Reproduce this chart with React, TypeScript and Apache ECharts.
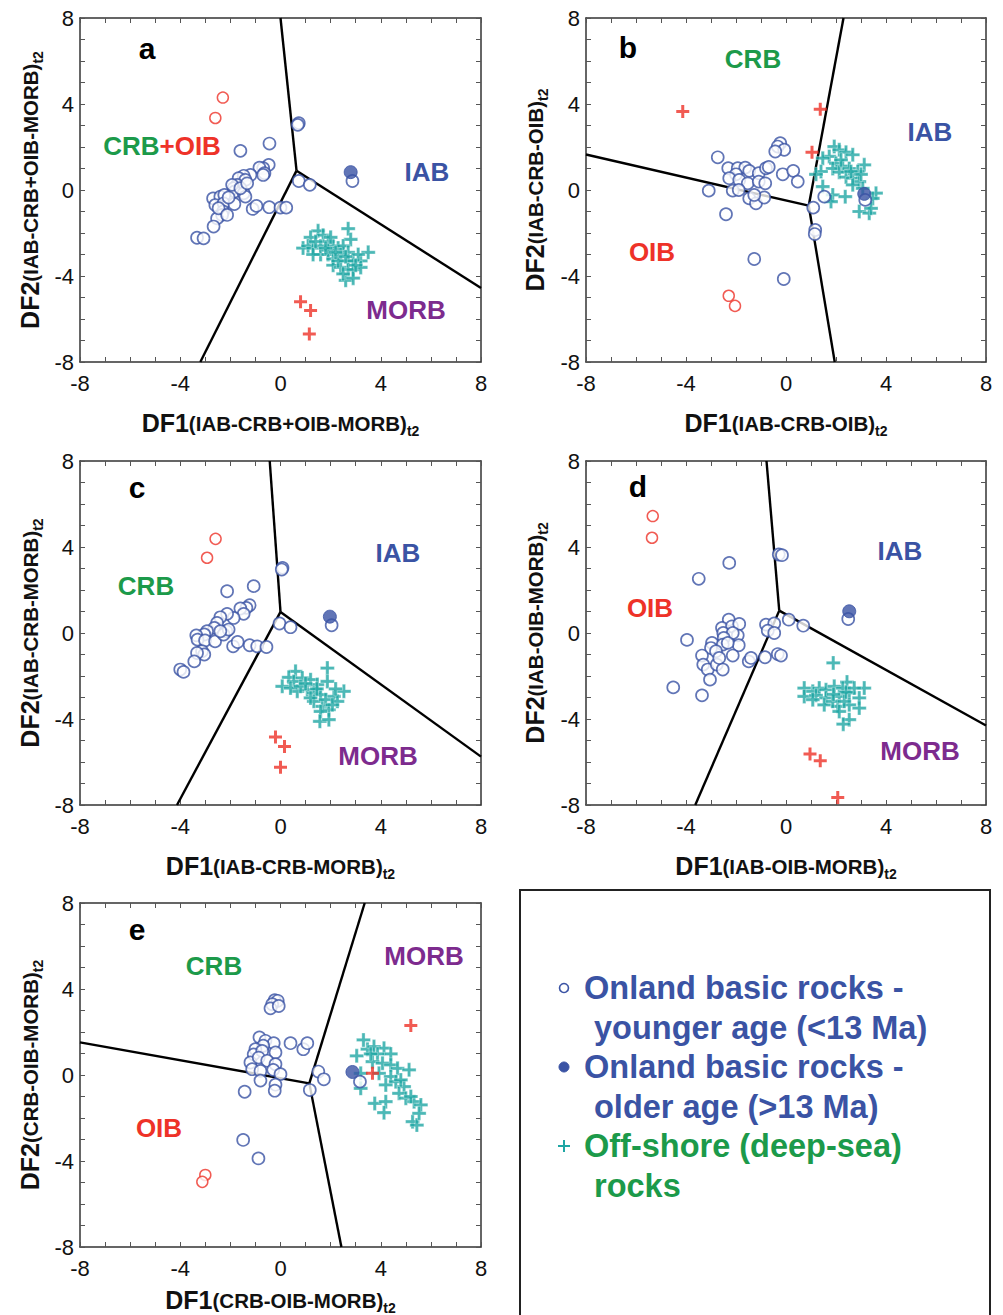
import React, { useEffect, useRef } from "react";
import * as echarts from "echarts";

type P = [number, number];

const FONT = '"Liberation Sans", Arial, Helvetica, sans-serif';
const BLUE = "#3a53a4";
const TEAL = "#1fa6a4";
const RED = "#ee3228";
const GREEN = "#1c9a4a";
const PURPLE = "#7d2b8e";
const PLUS = "path://M3.85,0H6.15V3.85H10V6.15H6.15V10H3.85V6.15H0V3.85H3.85Z";

const tickValues = [-8, -4, 0, 4, 8];

// ---------- panel a ----------
const aYounger: P[] = [
  [0.73, 3.11], [0.69, 3.03], [-0.44, 2.16], [-1.6, 1.82], [-0.47, 1.17], [-0.69, 1.01], [-0.84, 1.04],
  [-0.64, 0.78], [-0.69, 0.7], [-1.2, 0.7], [-1.47, 0.66], [-1.67, 0.55], [-1.4, 0.47], [-1.73, 0.24],
  [-1.87, 0.08], [-1.83, -0.07], [-1.47, -0.15], [-1.4, -0.31], [-2.69, -0.39], [-2.4, -0.31], [-2.24, -0.23],
  [-2.6, -0.7], [-2.27, -0.62], [-2.29, -1.0], [-2.33, -1.16], [-2.53, -1.32], [-2.67, -1.7], [-3.33, -2.22],
  [-3.07, -2.25], [-1.84, -0.65], [-1.11, -0.88], [-0.96, -0.74], [-0.45, -0.8], [0, -0.82], [0.23, -0.82],
  [0.73, 0.42], [1.17, 0.24], [2.87, 0.42], [-2.07, -0.35], [-2.47, -0.85], [-2.13, -1.16], [-1.93, 0.24],
  [-1.6, 0.08], [-1.33, 0.31],
];
const aOlder: P[] = [[2.8, 0.83]];
const aOffshore: P[] = [
  [2.7, -1.8], [2.8, -2.3], [3.5, -2.9], [1.5, -1.9], [1.7, -2.1], [1.2, -2.2], [0.9, -2.7], [1.1, -2.6],
  [1.3, -2.7], [1.6, -2.6], [1.9, -2.4], [2.1, -2.6], [2.3, -2.7], [2.5, -2.6], [2.7, -2.9], [1.6, -3.0],
  [1.9, -3.0], [2.1, -3.2], [2.4, -3.0], [2.7, -3.3], [2.9, -3.3], [3.2, -3.3], [2.1, -3.5], [2.4, -3.6],
  [2.7, -3.7], [2.9, -3.7], [3.2, -3.6], [2.6, -4.2], [2.9, -4.1], [1.3, -3.0], [1.9, -2.8], [2.3, -3.3],
  [3.1, -3.0], [1.4, -2.4], [2.0, -2.2], [2.5, -3.9], [1.8, -2.7], [2.2, -2.9], [3.0, -3.5], [2.6, -3.1],
];
const aRefCircles: P[] = [[-2.3, 4.3], [-2.6, 3.35]];
const aRefPlus: P[] = [[0.8, -5.2], [1.2, -5.6], [1.15, -6.7]];
const aLines: P[][] = [
  [[0, 8], [0.64, 0.9]],
  [[0.64, 0.9], [-3.2, -8]],
  [[0.64, 0.9], [8, -4.56]],
];

// ---------- panel b ----------
const bYounger: P[] = [
  [-0.23, 2.18], [-0.33, 2.02], [-0.07, 1.87], [-0.43, 1.79], [-2.73, 1.52], [-2.31, 1.01], [-1.93, 1.01],
  [-1.63, 1.04], [-1.47, 0.89], [-2.0, 0.73], [-2.27, 0.55], [-1.87, 0.47], [-1.53, 0.31], [-1.09, 0.78],
  [-1.09, 0.39], [-0.83, 0.31], [-0.8, 1.01], [-0.69, 1.07], [-0.13, 0.73], [0.29, 0.89], [0.47, 0.39],
  [-3.09, -0.03], [-2.13, -0.03], [-1.89, 0.0], [-1.47, -0.39], [-1.2, -0.62], [-0.87, -0.35], [-1.27, -0.23],
  [-2.4, -1.13], [1.53, -0.31], [1.09, -0.82], [1.17, -1.86], [1.15, -2.05], [-1.27, -3.21], [-0.09, -4.14],
  [3.17, -0.46],
];
const bOlder: P[] = [[3.13, -0.18]];
const bOffshore: P[] = [
  [1.93, 2.02], [2.13, 1.87], [2.4, 1.76], [2.67, 1.64], [1.73, 1.56], [1.47, 1.48], [2.0, 1.24], [2.27, 1.11],
  [2.53, 1.0], [3.13, 1.17], [2.87, 0.86], [1.87, 1.0], [2.13, 0.83], [2.4, 0.6], [2.67, 0.55], [2.93, 0.39],
  [1.4, 0.86], [1.2, 0.73], [1.47, 0.16], [1.87, -0.23], [2.37, -0.31], [3.07, 0.08], [3.6, -0.15], [3.47, -0.39],
  [2.93, -1.0], [3.33, -1.08], [3.4, -0.85], [1.8, -0.54], [2.67, 0.24], [2.6, 0.86], [2.2, 1.4], [3.0, 0.73],
];
const bRefCircles: P[] = [[-2.29, -4.92], [-2.04, -5.39]];
const bRefPlus: P[] = [[-4.13, 3.65], [1.37, 3.76], [1.04, 1.76]];
const bLines: P[][] = [
  [[-8, 1.65], [0.91, -0.73]],
  [[0.91, -0.73], [2.3, 8]],
  [[0.91, -0.73], [1.95, -8]],
];

// ---------- panel c ----------
const cYounger: P[] = [
  [0.08, 3.03], [0.05, 2.95], [-1.07, 2.18], [-2.13, 1.94], [-1.23, 1.29], [-1.36, 1.17], [-1.6, 1.14],
  [-1.47, 0.89], [-1.87, 0.7], [-2.13, 0.89], [-2.4, 0.73], [-2.53, 0.47], [-2.64, 0.24], [-2.93, 0.08],
  [-3.04, -0.07], [-3.36, -0.11], [-3.31, -0.31], [-3.01, -0.35], [-2.61, -0.39], [-2.16, 0.08], [-2.27, -0.07],
  [-2.07, 0.16], [-2.4, 0.08], [-3.13, -0.85], [-3.04, -1.0], [-3.33, -0.93], [-3.44, -1.32], [-4.0, -1.7],
  [-3.87, -1.81], [-1.89, -0.62], [-1.71, -0.42], [-1.23, -0.57], [-0.93, -0.62], [-0.56, -0.65],
  [-0.04, 0.44], [0.4, 0.27], [2.04, 0.36],
];
const cOlder: P[] = [[1.97, 0.76]];
const cOffshore: P[] = [
  [1.87, -1.63], [0.6, -1.78], [0.33, -2.06], [0.07, -2.48], [0.53, -2.25], [0.87, -2.09], [1.2, -2.17],
  [1.47, -2.4], [1.87, -2.25], [0.67, -2.71], [1.07, -2.64], [1.33, -2.79], [1.6, -2.87], [2.13, -2.95],
  [2.53, -2.71], [2.27, -3.18], [1.33, -3.18], [1.67, -3.41], [1.93, -3.57], [1.6, -3.65], [1.57, -4.11],
  [1.93, -4.03], [1.2, -3.02], [0.4, -2.56], [0.8, -2.48], [1.8, -3.1], [2.07, -3.34], [1.0, -2.35],
  [1.45, -2.6], [2.2, -2.6],
];
const cRefCircles: P[] = [[-2.59, 4.38], [-2.93, 3.5]];
const cRefPlus: P[] = [[-0.2, -4.84], [0.16, -5.28], [0, -6.24]];
const cLines: P[][] = [
  [[-0.43, 8], [0, 0.98]],
  [[0, 0.98], [-4.13, -8]],
  [[0, 0.98], [8, -5.75]],
];

// ---------- panel d ----------
const dYounger: P[] = [
  [-0.29, 3.65], [-0.16, 3.62], [-2.27, 3.26], [-3.49, 2.52], [-2.29, 0.62], [-2.56, 0.24], [-2.16, 0.31],
  [-1.87, 0.42], [-2.51, 0.0], [-1.93, -0.11], [-2.13, 0.0], [-2.49, -0.23], [-2.96, -0.46], [-3.0, -0.7],
  [-2.53, -0.54], [-1.89, -0.57], [-2.33, -0.46], [-2.8, -0.85], [-3.36, -1.05], [-3.31, -1.47], [-3.13, -1.7],
  [-3.04, -2.17], [-2.77, -1.47], [-2.53, -1.7], [-2.13, -1.05], [-2.67, -1.16], [-3.96, -0.32], [-4.51, -2.53],
  [-3.36, -2.9], [-1.49, -1.32], [-1.4, -1.16], [-0.84, -1.13], [-0.33, -0.98], [-0.2, -1.05], [-0.8, 0.39],
  [-0.47, 0.44], [-0.73, 0.11], [-0.47, 0.0], [0.11, 0.62], [0.69, 0.34], [2.49, 0.65],
];
const dOlder: P[] = [[2.53, 1.01]];
const dOffshore: P[] = [
  [1.89, -1.39], [0.73, -2.56], [1.07, -2.71], [1.33, -2.56], [1.6, -2.64], [1.93, -2.48], [2.44, -2.28],
  [3.13, -2.56], [0.73, -2.95], [1.2, -2.9], [1.6, -3.02], [2.13, -2.95], [2.53, -2.79], [2.93, -3.02],
  [1.53, -3.34], [2.07, -3.41], [2.53, -3.34], [2.93, -3.49], [2.13, -3.65], [2.53, -4.03], [2.29, -4.24],
  [2.27, -2.56], [2.73, -2.56], [1.87, -3.18], [1.07, -3.1], [2.33, -3.18], [2.4, -2.75], [1.9, -2.85],
];
const dRefCircles: P[] = [[-5.33, 5.44], [-5.36, 4.43]];
const dRefPlus: P[] = [[0.96, -5.63], [1.37, -5.94], [2.07, -7.65]];
const dLines: P[][] = [
  [[-0.78, 8], [-0.27, 1.04]],
  [[-0.27, 1.04], [-3.63, -8]],
  [[-0.27, 1.04], [8, -4.3]],
];

// ---------- panel e ----------
const eYounger: P[] = [
  [-0.23, 3.48], [-0.11, 3.45], [-0.33, 3.29], [-0.4, 3.1], [-0.07, 3.21], [-0.84, 1.75], [-0.6, 1.59],
  [-0.27, 1.48], [-0.69, 1.36], [-1.0, 1.2], [-1.07, 0.96], [-0.73, 1.12], [-0.2, 1.05], [-1.2, 0.58],
  [-0.87, 0.81], [-0.53, 0.66], [-0.2, 0.5], [-1.13, 0.27], [-0.8, 0.19], [-0.29, 0.24], [0, 0.04],
  [-0.8, -0.26], [-0.2, -0.45], [-0.23, -0.73], [0.4, 1.48], [0.91, 1.2], [1.07, 1.48], [-1.43, -0.78],
  [1.51, 0.16], [1.73, -0.2], [1.17, -0.7], [-1.49, -3.02], [-0.88, -3.88], [3.17, -0.31],
];
const eOlder: P[] = [[2.87, 0.14]];
const eOffshore: P[] = [
  [3.31, 1.63], [3.04, 0.89], [3.47, 1.2], [3.73, 1.32], [4.13, 1.25], [4.4, 0.98], [3.87, 0.98], [3.67, 0.62],
  [4.07, 0.55], [4.4, 0.47], [4.67, 0.31], [5.13, 0.24], [3.2, 0.08], [3.93, 0.08], [4.4, -0.07], [4.6, -0.31],
  [4.93, -0.54], [4.2, -0.46], [4.73, -0.85], [5.0, -1.08], [5.33, -1.24], [5.6, -1.39], [3.2, -0.62],
  [3.76, -1.32], [4.2, -1.24], [4.13, -1.75], [5.27, -2.17], [5.44, -2.33], [5.53, -1.78], [3.6, 0.98],
  [4.8, -0.23], [5.2, -1.0],
];
const eRefCircles: P[] = [[-3.0, -4.65], [-3.12, -4.97]];
const eRefPlus: P[] = [[5.2, 2.3], [3.67, 0.08]];
const eLines: P[][] = [
  [[-8, 1.52], [1.15, -0.39]],
  [[1.15, -0.39], [3.36, 8]],
  [[1.15, -0.39], [2.43, -8]],
];

// ---------- layout ----------
interface Region { text: string; x: number; y: number; color: string; }
interface Panel {
  letter: string; lx: number; ly: number;
  axisTag: string;
  left: number; top: number; width: number; height: number;
  yLabelX: number; xLabelY: number;
  younger: P[]; older: P[]; offshore: P[]; refCircles: P[]; refPlus: P[]; lines: P[][];
  regions: Region[];
}

const panels: Panel[] = [
  {
    letter: "a", lx: 147, ly: 48, axisTag: "IAB-CRB+OIB-MORB",
    left: 80, top: 18, width: 401, height: 344, yLabelX: 30, xLabelY: 423,
    younger: aYounger, older: aOlder, offshore: aOffshore, refCircles: aRefCircles, refPlus: aRefPlus, lines: aLines,
    regions: [
      { text: "{g|CRB}{r|+OIB}", x: 162, y: 146, color: GREEN },
      { text: "IAB", x: 427, y: 172, color: BLUE },
      { text: "MORB", x: 406, y: 310, color: PURPLE },
    ],
  },
  {
    letter: "b", lx: 628, ly: 47, axisTag: "IAB-CRB-OIB",
    left: 586, top: 18, width: 400, height: 344, yLabelX: 535, xLabelY: 423,
    younger: bYounger, older: bOlder, offshore: bOffshore, refCircles: bRefCircles, refPlus: bRefPlus, lines: bLines,
    regions: [
      { text: "CRB", x: 753, y: 59, color: GREEN },
      { text: "IAB", x: 930, y: 132, color: BLUE },
      { text: "OIB", x: 652, y: 252, color: RED },
    ],
  },
  {
    letter: "c", lx: 137, ly: 487, axisTag: "IAB-CRB-MORB",
    left: 80, top: 461, width: 401, height: 344, yLabelX: 30, xLabelY: 866,
    younger: cYounger, older: cOlder, offshore: cOffshore, refCircles: cRefCircles, refPlus: cRefPlus, lines: cLines,
    regions: [
      { text: "CRB", x: 146, y: 586, color: GREEN },
      { text: "IAB", x: 398, y: 553, color: BLUE },
      { text: "MORB", x: 378, y: 756, color: PURPLE },
    ],
  },
  {
    letter: "d", lx: 638, ly: 486, axisTag: "IAB-OIB-MORB",
    left: 586, top: 461, width: 400, height: 344, yLabelX: 535, xLabelY: 866,
    younger: dYounger, older: dOlder, offshore: dOffshore, refCircles: dRefCircles, refPlus: dRefPlus, lines: dLines,
    regions: [
      { text: "OIB", x: 650, y: 608, color: RED },
      { text: "IAB", x: 900, y: 551, color: BLUE },
      { text: "MORB", x: 920, y: 751, color: PURPLE },
    ],
  },
  {
    letter: "e", lx: 137, ly: 929, axisTag: "CRB-OIB-MORB",
    left: 80, top: 903, width: 401, height: 344, yLabelX: 30, xLabelY: 1300,
    younger: eYounger, older: eOlder, offshore: eOffshore, refCircles: eRefCircles, refPlus: eRefPlus, lines: eLines,
    regions: [
      { text: "CRB", x: 214, y: 966, color: GREEN },
      { text: "MORB", x: 424, y: 956, color: PURPLE },
      { text: "OIB", x: 159, y: 1128, color: RED },
    ],
  },
];

const legendLines = [
  { text: "Onland basic rocks -", x: 584, y: 988, color: BLUE },
  { text: "younger age (<13 Ma)", x: 594, y: 1028, color: BLUE },
  { text: "Onland basic rocks -", x: 584, y: 1067, color: BLUE },
  { text: "older age (>13 Ma)", x: 594, y: 1107, color: BLUE },
  { text: "Off-shore (deep-sea)", x: 584, y: 1146, color: GREEN },
  { text: "rocks", x: 594, y: 1186, color: GREEN },
];

const axisRich = {
  a: { fontSize: 25, fontWeight: "bold", fontFamily: FONT, fill: "#111", lineHeight: 30 },
  b: { fontSize: 20.5, fontWeight: "bold", fontFamily: FONT, fill: "#111", lineHeight: 30 },
  c: { fontSize: 14, fontWeight: "bold", fontFamily: FONT, fill: "#111", verticalAlign: "bottom" },
};

function makeAxis(gridIndex: number, position: string, showLabel: boolean, isX: boolean) {
  return {
    type: "value",
    gridIndex,
    position,
    min: tickValues[0],
    max: tickValues[tickValues.length - 1],
    interval: 4,
    axisLine: { show: true, onZero: false, lineStyle: { color: "#333", width: 1.5 } },
    axisTick: { show: true, inside: true, length: 5, lineStyle: { color: "#555", width: 1 } },
    minorTick: { show: true, splitNumber: 4, length: 5, lineStyle: { color: "#555", width: 1 } },
    splitLine: { show: false },
    axisLabel: {
      show: showLabel,
      fontSize: 22,
      color: "#111",
      fontFamily: FONT,
      margin: isX ? 10 : 6,
    },
  };
}

function buildOption() {
  const grid: any[] = [];
  const xAxis: any[] = [];
  const yAxis: any[] = [];
  const series: any[] = [];
  const graphic: any[] = [];

  panels.forEach((p, i) => {
    grid.push({ left: p.left, top: p.top, width: p.width, height: p.height, show: false });
    xAxis.push(makeAxis(i, "bottom", true, true));
    xAxis.push(makeAxis(i, "top", false, true));
    yAxis.push(makeAxis(i, "left", true, false));
    yAxis.push(makeAxis(i, "right", false, false));
    const xi = 2 * i;
    const yi = 2 * i;

    p.lines.forEach((seg) => {
      series.push({
        type: "line", xAxisIndex: xi, yAxisIndex: yi, data: seg, symbol: "none", silent: true,
        lineStyle: { color: "#000", width: 2.4 }, z: 1,
      });
    });
    series.push({
      type: "scatter", xAxisIndex: xi, yAxisIndex: yi, data: p.offshore, symbol: PLUS, symbolSize: 14,
      itemStyle: { color: TEAL, borderColor: "#fff", borderWidth: 0.4 }, z: 2,
    });
    series.push({
      type: "scatter", xAxisIndex: xi, yAxisIndex: yi, data: p.refPlus, symbol: PLUS, symbolSize: 13,
      itemStyle: { color: RED }, z: 2,
    });
    series.push({
      type: "scatter", xAxisIndex: xi, yAxisIndex: yi, data: p.younger, symbol: "circle", symbolSize: 12,
      itemStyle: { color: "#fff", borderColor: BLUE, borderWidth: 1.7 }, z: 3,
    });
    series.push({
      type: "scatter", xAxisIndex: xi, yAxisIndex: yi, data: p.refCircles, symbol: "circle", symbolSize: 11,
      itemStyle: { color: "#fff", borderColor: RED, borderWidth: 1.5 }, z: 3,
    });
    series.push({
      type: "scatter", xAxisIndex: xi, yAxisIndex: yi, data: p.older, symbol: "circle", symbolSize: 13,
      itemStyle: { color: BLUE, borderColor: BLUE, borderWidth: 1 }, z: 4,
    });

    graphic.push({
      type: "text", x: p.lx, y: p.ly, z: 10,
      style: { text: p.letter, fill: "#000", fontSize: 30, fontWeight: "bold", fontFamily: FONT, align: "center", verticalAlign: "middle" },
    });
    p.regions.forEach((r) => {
      graphic.push({
        type: "text", x: r.x, y: r.y, z: 10,
        style: {
          text: r.text, fill: r.color, fontSize: 26, fontWeight: "bold", fontFamily: FONT,
          align: "center", verticalAlign: "middle",
          rich: {
            g: { fill: GREEN, fontSize: 26, fontWeight: "bold", fontFamily: FONT },
            r: { fill: RED, fontSize: 26, fontWeight: "bold", fontFamily: FONT },
          },
        },
      });
    });
    const cx = p.left + p.width / 2;
    graphic.push({
      type: "text", x: cx, y: p.xLabelY, z: 10,
      style: {
        text: `{a|DF1}{b|(${p.axisTag})}{c|t2}`, rich: axisRich,
        align: "center", verticalAlign: "middle", fill: "#111",
      },
    });
    graphic.push({
      type: "text", x: p.yLabelX, y: p.top + p.height / 2, rotation: Math.PI / 2, z: 10,
      style: {
        text: `{a|DF2}{b|(${p.axisTag})}{c|t2}`, rich: axisRich,
        align: "center", verticalAlign: "middle", fill: "#111",
      },
    });
  });

  graphic.push({
    type: "rect", z: 5,
    shape: { x: 520, y: 890, width: 470, height: 440 },
    style: { fill: "#fff", stroke: "#222", lineWidth: 2 },
  });
  graphic.push({
    type: "circle", z: 11, shape: { cx: 564, cy: 988, r: 4.5 },
    style: { fill: "#fff", stroke: BLUE, lineWidth: 1.6 },
  });
  graphic.push({
    type: "circle", z: 11, shape: { cx: 564, cy: 1067, r: 5 },
    style: { fill: BLUE, stroke: BLUE, lineWidth: 1 },
  });
  graphic.push({ type: "rect", z: 11, shape: { x: 558, y: 1145, width: 12, height: 2 }, style: { fill: TEAL } });
  graphic.push({ type: "rect", z: 11, shape: { x: 563, y: 1140, width: 2, height: 12 }, style: { fill: TEAL } });
  legendLines.forEach((l) => {
    graphic.push({
      type: "text", x: l.x, y: l.y, z: 11,
      style: { text: l.text, fill: l.color, fontSize: 32.5, fontWeight: "bold", fontFamily: FONT, align: "left", verticalAlign: "middle" },
    });
  });

  return {
    animation: false,
    backgroundColor: "#fff",
    grid,
    xAxis,
    yAxis,
    series,
    graphic,
  };
}

export default function App() {
  const ref = useRef<HTMLDivElement>(null);
  useEffect(() => {
    if (!ref.current) return;
    const chart = echarts.init(ref.current, null, { renderer: "svg" });
    chart.setOption(buildOption() as any);
    return () => chart.dispose();
  }, []);
  return (
    <div
      ref={ref}
      style={{ position: "absolute", left: 0, top: 0, width: 1003, height: 1315, background: "#fff" }}
    />
  );
}
